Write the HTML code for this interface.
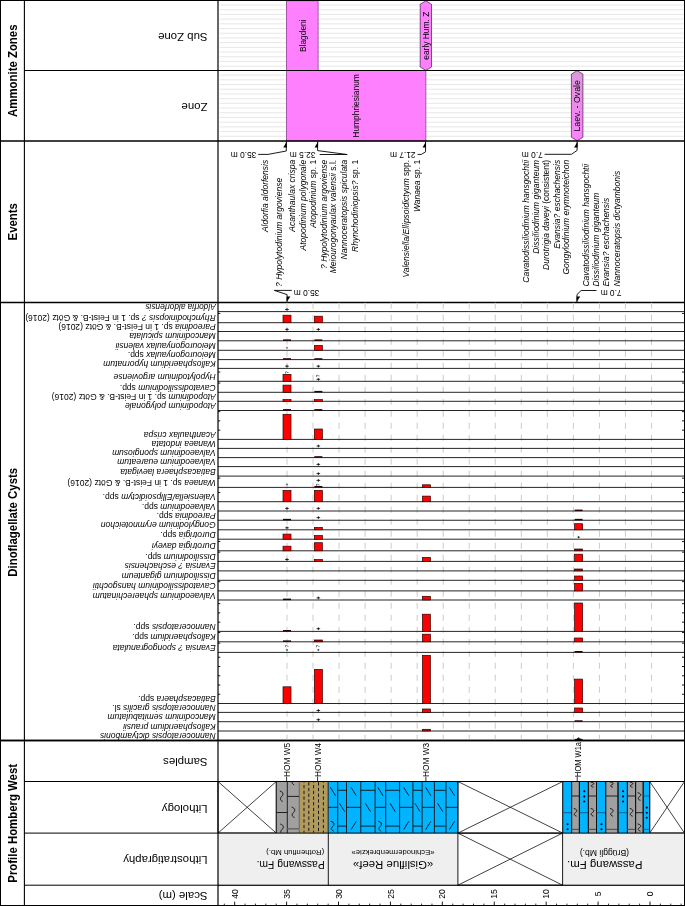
<!DOCTYPE html>
<html lang="en">
<head>
<meta charset="utf-8">
<title>Profile Homberg West – Dinoflagellate Cysts</title>
<style>html,body{margin:0;padding:0;background:#fff}body{width:685px;height:906px;overflow:hidden}svg text{white-space:pre}</style>
</head>
<body>
<svg width="685" height="906" viewBox="0 0 685 906" style="display:block;font-family:'Liberation Sans', Arial, sans-serif">
<rect x="0" y="0" width="685" height="906" fill="#fff"/>
<g stroke="#e3e3e3" stroke-width="0.85">
<line x1="219.5" y1="5.00" x2="684" y2="5.00"/>
<line x1="219.5" y1="9.71" x2="684" y2="9.71"/>
<line x1="219.5" y1="14.42" x2="684" y2="14.42"/>
<line x1="219.5" y1="19.12" x2="684" y2="19.12"/>
<line x1="219.5" y1="23.82" x2="684" y2="23.82"/>
<line x1="219.5" y1="28.53" x2="684" y2="28.53"/>
<line x1="219.5" y1="33.23" x2="684" y2="33.23"/>
<line x1="219.5" y1="37.94" x2="684" y2="37.94"/>
<line x1="219.5" y1="42.64" x2="684" y2="42.64"/>
<line x1="219.5" y1="47.35" x2="684" y2="47.35"/>
<line x1="219.5" y1="52.05" x2="684" y2="52.05"/>
<line x1="219.5" y1="56.76" x2="684" y2="56.76"/>
<line x1="219.5" y1="61.46" x2="684" y2="61.46"/>
<line x1="219.5" y1="66.17" x2="684" y2="66.17"/>
<line x1="219.5" y1="75.11" x2="684" y2="75.11"/>
<line x1="219.5" y1="79.81" x2="684" y2="79.81"/>
<line x1="219.5" y1="84.52" x2="684" y2="84.52"/>
<line x1="219.5" y1="89.22" x2="684" y2="89.22"/>
<line x1="219.5" y1="93.93" x2="684" y2="93.93"/>
<line x1="219.5" y1="98.63" x2="684" y2="98.63"/>
<line x1="219.5" y1="103.34" x2="684" y2="103.34"/>
<line x1="219.5" y1="108.04" x2="684" y2="108.04"/>
<line x1="219.5" y1="112.75" x2="684" y2="112.75"/>
<line x1="219.5" y1="117.45" x2="684" y2="117.45"/>
<line x1="219.5" y1="122.16" x2="684" y2="122.16"/>
<line x1="219.5" y1="126.86" x2="684" y2="126.86"/>
<line x1="219.5" y1="131.56" x2="684" y2="131.56"/>
<line x1="219.5" y1="136.27" x2="684" y2="136.27"/>
</g>
<rect x="286.40" y="0.80" width="31.70" height="69.60" fill="#ff80ff" stroke="#803080" stroke-width="0.7"/>
<rect x="286.40" y="70.50" width="139.50" height="70.50" fill="#ff80ff" stroke="#803080" stroke-width="0.7"/>
<defs><linearGradient id="pg" x1="0" y1="0" x2="0" y2="1"><stop offset="0" stop-color="#d99ad9"/><stop offset="0.55" stop-color="#ee88ee"/><stop offset="1" stop-color="#ff80ff"/></linearGradient></defs>
<polygon points="425.85,0.80 431.50,4.20 431.50,67.00 425.85,70.40 420.20,67.00 420.20,4.20" fill="#ff80ff" stroke="#402040" stroke-width="0.7"/>
<polygon points="577.15,70.70 582.90,74.10 582.90,137.30 577.15,140.70 571.40,137.30 571.40,74.10" fill="url(#pg)" stroke="#402040" stroke-width="0.7"/>
<text transform="translate(305.70,35.70) rotate(-90) scale(0.895,1)" text-anchor="middle" style="font-size:9.4px;" fill="#000">Blagdeni</text>
<text transform="translate(358.90,105.90) rotate(-90) scale(0.895,1)" text-anchor="middle" style="font-size:9.4px;" fill="#000">Humphriesianum</text>
<text transform="translate(429.30,35.70) rotate(-90) scale(0.895,1)" text-anchor="middle" style="font-size:9.4px;" fill="#000">early Hum. Z</text>
<text transform="translate(580.00,105.90) rotate(-90) scale(0.895,1)" text-anchor="middle" style="font-size:9.8px;" fill="#000">Laev. - Ovale</text>
<rect x="0.5" y="0.5" width="684" height="905" fill="none" stroke="#000" stroke-width="1"/>
<line x1="24.4" y1="0" x2="24.4" y2="906" stroke="#000" stroke-width="1.1" />
<line x1="0" y1="141.0" x2="685" y2="141.0" stroke="#000" stroke-width="1.5" />
<line x1="0" y1="302.4" x2="685" y2="302.4" stroke="#000" stroke-width="1.5" />
<line x1="0" y1="740.55" x2="685" y2="740.55" stroke="#000" stroke-width="1.5" />
<line x1="24.4" y1="70.5" x2="685" y2="70.5" stroke="#000" stroke-width="1.0" />
<line x1="24.4" y1="781.5" x2="685" y2="781.5" stroke="#000" stroke-width="1.0" />
<line x1="24.4" y1="833.1" x2="685" y2="833.1" stroke="#000" stroke-width="1.0" />
<line x1="24.4" y1="885.2" x2="685" y2="885.2" stroke="#000" stroke-width="1.0" />
<text transform="translate(17.00,70.70) rotate(-90) scale(0.95,1)" text-anchor="middle" style="font-size:12px;font-weight:bold;" fill="#000">Ammonite Zones</text>
<text transform="translate(17.00,221.80) rotate(-90) scale(0.95,1)" text-anchor="middle" style="font-size:12px;font-weight:bold;" fill="#000">Events</text>
<text transform="translate(17.00,522.30) rotate(-90) scale(0.95,1)" text-anchor="middle" style="font-size:12px;font-weight:bold;" fill="#000">Dinoflagellate Cysts</text>
<text transform="translate(17.00,823.30) rotate(-90) scale(0.95,1)" text-anchor="middle" style="font-size:12px;font-weight:bold;" fill="#000">Profile Homberg West</text>
<text transform="translate(207.50,32.95) rotate(180) scale(0.975,1)" text-anchor="start" style="font-size:11.7px;" fill="#000">Sub Zone</text>
<text transform="translate(207.50,103.25) rotate(180) scale(0.975,1)" text-anchor="start" style="font-size:11.7px;" fill="#000">Zone</text>
<text transform="translate(207.50,758.05) rotate(180) scale(0.975,1)" text-anchor="start" style="font-size:11.7px;" fill="#000">Samples</text>
<text transform="translate(207.50,804.65) rotate(180) scale(0.975,1)" text-anchor="start" style="font-size:11.7px;" fill="#000">Lithology</text>
<text transform="translate(207.50,856.25) rotate(180) scale(0.975,1)" text-anchor="start" style="font-size:11.7px;" fill="#000">Lithostratigraphy</text>
<text transform="translate(207.50,891.65) rotate(180) scale(0.975,1)" text-anchor="start" style="font-size:11.7px;" fill="#000">Scale (m)</text>
<text transform="translate(268.20,159.80) rotate(-90)" text-anchor="end" style="font-size:8.5px;font-style:italic;" fill="#000">Aldorfia aldorfensis</text>
<text transform="translate(282.10,177.80) rotate(-90)" text-anchor="end" style="font-size:8.5px;font-style:italic;" fill="#000">? Hypolytodinium argoviense</text>
<text transform="translate(295.40,159.80) rotate(-90)" text-anchor="end" style="font-size:8.5px;font-style:italic;" fill="#000">Acanthaulax crispa</text>
<text transform="translate(305.60,159.80) rotate(-90)" text-anchor="end" style="font-size:8.5px;font-style:italic;" fill="#000">Atopodinium polygonale</text>
<text transform="translate(316.20,159.80) rotate(-90)" text-anchor="end" style="font-size:8.5px;" fill="#000"><tspan font-style="italic">Atopodinium</tspan> sp. 1</text>
<text transform="translate(326.70,159.80) rotate(-90)" text-anchor="end" style="font-size:8.5px;font-style:italic;" fill="#000">? Hypolytodinium argoviense</text>
<text transform="translate(336.30,159.80) rotate(-90)" text-anchor="end" style="font-size:8.5px;" fill="#000"><tspan font-style="italic">Meiourogonyaulax valensii</tspan> s.l.</text>
<text transform="translate(347.10,159.80) rotate(-90)" text-anchor="end" style="font-size:8.5px;font-style:italic;" fill="#000">Nannoceratopsis spiculata</text>
<text transform="translate(357.70,159.80) rotate(-90)" text-anchor="end" style="font-size:8.5px;" fill="#000"><tspan font-style="italic">Rhynchodiniopsis?</tspan> sp. 1</text>
<text transform="translate(409.30,159.80) rotate(-90)" text-anchor="end" style="font-size:8.5px;" fill="#000"><tspan font-style="italic">Valensiella/Ellipsoidictyum</tspan> spp.</text>
<text transform="translate(419.50,159.80) rotate(-90)" text-anchor="end" style="font-size:8.5px;" fill="#000"><tspan font-style="italic">Wanaea</tspan> sp. 1</text>
<text transform="translate(528.90,159.80) rotate(-90)" text-anchor="end" style="font-size:8.5px;font-style:italic;" fill="#000">Cavatodissiliodinium hansgochtii</text>
<text transform="translate(539.10,159.80) rotate(-90)" text-anchor="end" style="font-size:8.5px;font-style:italic;" fill="#000">Dissiliodinium giganteum</text>
<text transform="translate(549.30,159.80) rotate(-90)" text-anchor="end" style="font-size:8.5px;" fill="#000"><tspan font-style="italic">Durotrigia daveyi</tspan> (consistent)</text>
<text transform="translate(559.50,159.80) rotate(-90)" text-anchor="end" style="font-size:8.5px;font-style:italic;" fill="#000">Evansia? eschachensis</text>
<text transform="translate(569.10,159.80) rotate(-90)" text-anchor="end" style="font-size:8.5px;font-style:italic;" fill="#000">Gongylodinium erymnoteichon</text>
<text transform="translate(588.60,286.60) rotate(-90)" text-anchor="start" style="font-size:8.5px;font-style:italic;" fill="#000">Cavatodissiliodinium hansgochtii</text>
<text transform="translate(598.80,286.60) rotate(-90)" text-anchor="start" style="font-size:8.5px;font-style:italic;" fill="#000">Dissiliodinium giganteum</text>
<text transform="translate(609.00,286.60) rotate(-90)" text-anchor="start" style="font-size:8.5px;font-style:italic;" fill="#000">Evansia? eschachensis</text>
<text transform="translate(619.60,286.60) rotate(-90)" text-anchor="start" style="font-size:8.5px;font-style:italic;" fill="#000">Nannoceratopsis dictyambonis</text>
<text transform="translate(256.30,151.90) rotate(180)" text-anchor="start" style="font-size:8.4px;" fill="#000">35.0 m</text>
<text transform="translate(315.50,151.90) rotate(180)" text-anchor="start" style="font-size:8.4px;" fill="#000">32.5 m</text>
<text transform="translate(415.60,151.90) rotate(180)" text-anchor="start" style="font-size:8.4px;" fill="#000">21.7 m</text>
<text transform="translate(542.80,151.90) rotate(180)" text-anchor="start" style="font-size:8.4px;" fill="#000">7.0 m</text>
<text transform="translate(319.30,289.50) rotate(180)" text-anchor="start" style="font-size:8.4px;" fill="#000">35.0 m</text>
<text transform="translate(621.60,289.50) rotate(180)" text-anchor="start" style="font-size:8.4px;" fill="#000">7.0 m</text>
<path d="M258.2,154.4 L268,154.4 L286.3,151.0 L286.3,141.5" fill="none" stroke="#000" stroke-width="0.9" stroke-linejoin="round"/>
<polygon points="286.75,141.50 286.75,147.60 283.30,147.60" fill="#000"/>
<path d="M319.7,154.5 L347.2,154.5 L317.6,150.6 L317.6,141.5" fill="none" stroke="#000" stroke-width="0.9" stroke-linejoin="round"/>
<polygon points="318.05,141.50 318.05,147.60 314.60,147.60" fill="#000"/>
<path d="M417.6,154.4 L421.4,154.4 L425.55,151.8 L425.55,141.5" fill="none" stroke="#000" stroke-width="0.9" stroke-linejoin="round"/>
<polygon points="426.00,141.50 426.00,147.60 422.55,147.60" fill="#000"/>
<path d="M544.6,154.3 L571.5,154.3 L577.1,150.4 L577.1,141.5" fill="none" stroke="#000" stroke-width="0.9" stroke-linejoin="round"/>
<polygon points="577.55,141.50 577.55,147.60 574.10,147.60" fill="#000"/>
<path d="M291.8,290.4 L274.3,290.4 L287.1,294.6 L287.1,301.9" fill="none" stroke="#000" stroke-width="0.9" stroke-linejoin="round"/>
<polygon points="286.65,301.90 286.65,296.40 290.40,296.40" fill="#000"/>
<path d="M596.5,290.5 L581.2,290.5 L577.0,294.5 L577.0,301.9" fill="none" stroke="#000" stroke-width="0.9" stroke-linejoin="round"/>
<polygon points="576.55,301.90 576.55,296.40 580.30,296.40" fill="#000"/>
<g stroke="#d0d0d0" stroke-width="1.1" stroke-dasharray="6 6">
<line x1="651.50" y1="302.70" x2="651.50" y2="740.05"/>
<line x1="625.46" y1="302.70" x2="625.46" y2="740.05"/>
<line x1="599.43" y1="302.70" x2="599.43" y2="740.05"/>
<line x1="573.39" y1="302.70" x2="573.39" y2="740.05"/>
<line x1="547.36" y1="302.70" x2="547.36" y2="740.05"/>
<line x1="521.32" y1="302.70" x2="521.32" y2="740.05"/>
<line x1="495.28" y1="302.70" x2="495.28" y2="740.05"/>
<line x1="469.25" y1="302.70" x2="469.25" y2="740.05"/>
<line x1="443.21" y1="302.70" x2="443.21" y2="740.05"/>
<line x1="417.18" y1="302.70" x2="417.18" y2="740.05"/>
<line x1="391.14" y1="302.70" x2="391.14" y2="740.05"/>
<line x1="365.10" y1="302.70" x2="365.10" y2="740.05"/>
<line x1="339.07" y1="302.70" x2="339.07" y2="740.05"/>
<line x1="313.03" y1="302.70" x2="313.03" y2="740.05"/>
<line x1="287.00" y1="302.70" x2="287.00" y2="740.05"/>
</g>
<line x1="218.0" y1="311.6" x2="685" y2="311.6" stroke="#1a1a1a" stroke-width="0.95" />
<text transform="translate(215.70,304.15) rotate(180)" text-anchor="start" style="font-size:8.27px;" fill="#000"><tspan font-style="italic">Aldorfia aldorfensis</tspan></text>
<line x1="218.0" y1="322.7" x2="685" y2="322.7" stroke="#1a1a1a" stroke-width="0.95" />
<text transform="translate(215.70,315.25) rotate(180)" text-anchor="start" style="font-size:8.5px;" fill="#000"><tspan font-style="italic">Rhynchodiniopsis ?</tspan> sp. 1 in Feist-B. &amp; Götz (2016)</text>
<line x1="218.0" y1="313.45" x2="220.3" y2="313.45" stroke="#000" stroke-width="0.9" />
<line x1="682.0" y1="313.45" x2="684.5" y2="313.45" stroke="#000" stroke-width="0.9" />
<line x1="218.0" y1="331.5" x2="685" y2="331.5" stroke="#1a1a1a" stroke-width="0.95" />
<text transform="translate(215.70,324.05) rotate(180)" text-anchor="start" style="font-size:8.5px;" fill="#000"><tspan font-style="italic">Pareodinia</tspan> sp. 1 in Feist-B. &amp; Götz (2016)</text>
<line x1="218.0" y1="340.8" x2="685" y2="340.8" stroke="#1a1a1a" stroke-width="0.95" />
<text transform="translate(215.70,333.35) rotate(180)" text-anchor="start" style="font-size:8.5px;" fill="#000"><tspan font-style="italic">Mancodinium spiculata</tspan></text>
<line x1="218.0" y1="350.3" x2="685" y2="350.3" stroke="#1a1a1a" stroke-width="0.95" />
<text transform="translate(215.70,342.85) rotate(180)" text-anchor="start" style="font-size:8.5px;" fill="#000"><tspan font-style="italic">Meiourogonyaulax valensii</tspan></text>
<line x1="218.0" y1="359.6" x2="685" y2="359.6" stroke="#1a1a1a" stroke-width="0.95" />
<text transform="translate(215.70,352.15) rotate(180)" text-anchor="start" style="font-size:8.5px;" fill="#000"><tspan font-style="italic">Meiourogonyaulax</tspan> spp.</text>
<line x1="218.0" y1="368.4" x2="685" y2="368.4" stroke="#1a1a1a" stroke-width="0.95" />
<text transform="translate(215.70,360.95) rotate(180)" text-anchor="start" style="font-size:8.5px;" fill="#000"><tspan font-style="italic">Kallosphaeridium hypornatum</tspan></text>
<line x1="218.0" y1="381.3" x2="685" y2="381.3" stroke="#1a1a1a" stroke-width="0.95" />
<text transform="translate(215.70,373.85) rotate(180)" text-anchor="start" style="font-size:8.5px;" fill="#000"><tspan font-style="italic">Hypolytodinium argoviense</tspan></text>
<line x1="218.0" y1="372.05" x2="220.3" y2="372.05" stroke="#000" stroke-width="0.9" />
<line x1="682.0" y1="372.05" x2="684.5" y2="372.05" stroke="#000" stroke-width="0.9" />
<line x1="218.0" y1="392.3" x2="685" y2="392.3" stroke="#1a1a1a" stroke-width="0.95" />
<text transform="translate(215.70,384.85) rotate(180)" text-anchor="start" style="font-size:8.5px;" fill="#000"><tspan font-style="italic">Cavatodissiliodinium</tspan> spp.</text>
<line x1="218.0" y1="383.05" x2="220.3" y2="383.05" stroke="#000" stroke-width="0.9" />
<line x1="682.0" y1="383.05" x2="684.5" y2="383.05" stroke="#000" stroke-width="0.9" />
<line x1="218.0" y1="401.3" x2="685" y2="401.3" stroke="#1a1a1a" stroke-width="0.95" />
<text transform="translate(215.70,393.85) rotate(180)" text-anchor="start" style="font-size:8.5px;" fill="#000"><tspan font-style="italic">Atopodinium</tspan> sp. 1 in Feist-B. &amp; Götz (2016)</text>
<line x1="218.0" y1="410.5" x2="685" y2="410.5" stroke="#1a1a1a" stroke-width="0.95" />
<text transform="translate(215.70,403.05) rotate(180)" text-anchor="start" style="font-size:8.5px;" fill="#000"><tspan font-style="italic">Atopodinium polygonale</tspan></text>
<line x1="218.0" y1="439.4" x2="685" y2="439.4" stroke="#1a1a1a" stroke-width="0.95" />
<text transform="translate(215.70,431.95) rotate(180)" text-anchor="start" style="font-size:8.5px;" fill="#000"><tspan font-style="italic">Acanthaulax crispa</tspan></text>
<line x1="218.0" y1="430.15" x2="220.3" y2="430.15" stroke="#000" stroke-width="0.9" />
<line x1="682.0" y1="430.15" x2="684.5" y2="430.15" stroke="#000" stroke-width="0.9" />
<line x1="218.0" y1="420.9" x2="220.3" y2="420.9" stroke="#000" stroke-width="0.9" />
<line x1="682.0" y1="420.9" x2="684.5" y2="420.9" stroke="#000" stroke-width="0.9" />
<line x1="218.0" y1="411.65" x2="220.3" y2="411.65" stroke="#000" stroke-width="0.9" />
<line x1="682.0" y1="411.65" x2="684.5" y2="411.65" stroke="#000" stroke-width="0.9" />
<line x1="218.0" y1="448.4" x2="685" y2="448.4" stroke="#1a1a1a" stroke-width="0.95" />
<text transform="translate(215.70,440.95) rotate(180)" text-anchor="start" style="font-size:8.5px;" fill="#000"><tspan font-style="italic">Wanaea indotata</tspan></text>
<line x1="218.0" y1="457.6" x2="685" y2="457.6" stroke="#1a1a1a" stroke-width="0.95" />
<text transform="translate(215.70,450.15) rotate(180)" text-anchor="start" style="font-size:8.5px;" fill="#000"><tspan font-style="italic">Valvaeodinium spongiosum</tspan></text>
<line x1="218.0" y1="466.6" x2="685" y2="466.6" stroke="#1a1a1a" stroke-width="0.95" />
<text transform="translate(215.70,459.15) rotate(180)" text-anchor="start" style="font-size:8.5px;" fill="#000"><tspan font-style="italic">Valvaeodinium euareatum</tspan></text>
<line x1="218.0" y1="476.1" x2="685" y2="476.1" stroke="#1a1a1a" stroke-width="0.95" />
<text transform="translate(215.70,468.65) rotate(180)" text-anchor="start" style="font-size:8.5px;" fill="#000"><tspan font-style="italic">Batiacasphaera laevigata</tspan></text>
<line x1="218.0" y1="487.4" x2="685" y2="487.4" stroke="#1a1a1a" stroke-width="0.95" />
<text transform="translate(215.70,479.95) rotate(180)" text-anchor="start" style="font-size:8.5px;" fill="#000"><tspan font-style="italic">Wanaea</tspan> sp. 1 in Feist-B. &amp; Götz (2016)</text>
<line x1="218.0" y1="478.15" x2="220.3" y2="478.15" stroke="#000" stroke-width="0.9" />
<line x1="682.0" y1="478.15" x2="684.5" y2="478.15" stroke="#000" stroke-width="0.9" />
<line x1="218.0" y1="501.7" x2="685" y2="501.7" stroke="#1a1a1a" stroke-width="0.95" />
<text transform="translate(215.70,494.25) rotate(180)" text-anchor="start" style="font-size:8.5px;" fill="#000"><tspan font-style="italic">Valensiella/Ellipsoidictym</tspan> spp.</text>
<line x1="218.0" y1="492.45" x2="220.3" y2="492.45" stroke="#000" stroke-width="0.9" />
<line x1="682.0" y1="492.45" x2="684.5" y2="492.45" stroke="#000" stroke-width="0.9" />
<line x1="218.0" y1="511.0" x2="685" y2="511.0" stroke="#1a1a1a" stroke-width="0.95" />
<text transform="translate(215.70,503.55) rotate(180)" text-anchor="start" style="font-size:8.5px;" fill="#000"><tspan font-style="italic">Valvaeodinium</tspan> spp.</text>
<line x1="218.0" y1="520.25" x2="685" y2="520.25" stroke="#1a1a1a" stroke-width="0.95" />
<text transform="translate(215.70,512.80) rotate(180)" text-anchor="start" style="font-size:8.5px;" fill="#000"><tspan font-style="italic">Pareodinia</tspan> spp.</text>
<line x1="218.0" y1="529.8" x2="685" y2="529.8" stroke="#1a1a1a" stroke-width="0.95" />
<text transform="translate(215.70,522.35) rotate(180)" text-anchor="start" style="font-size:8.5px;" fill="#000"><tspan font-style="italic">Gongylodinium erymnoteichon</tspan></text>
<line x1="218.0" y1="539.2" x2="685" y2="539.2" stroke="#1a1a1a" stroke-width="0.95" />
<text transform="translate(215.70,531.75) rotate(180)" text-anchor="start" style="font-size:8.5px;" fill="#000"><tspan font-style="italic">Durotrigia</tspan> spp.</text>
<line x1="218.0" y1="550.8" x2="685" y2="550.8" stroke="#1a1a1a" stroke-width="0.95" />
<text transform="translate(215.70,543.35) rotate(180)" text-anchor="start" style="font-size:8.5px;" fill="#000"><tspan font-style="italic">Durotrigia daveyi</tspan></text>
<line x1="218.0" y1="541.55" x2="220.3" y2="541.55" stroke="#000" stroke-width="0.9" />
<line x1="682.0" y1="541.55" x2="684.5" y2="541.55" stroke="#000" stroke-width="0.9" />
<line x1="218.0" y1="561.4" x2="685" y2="561.4" stroke="#1a1a1a" stroke-width="0.95" />
<text transform="translate(215.70,553.95) rotate(180)" text-anchor="start" style="font-size:8.5px;" fill="#000"><tspan font-style="italic">Dissiliodinium</tspan> spp.</text>
<line x1="218.0" y1="552.15" x2="220.3" y2="552.15" stroke="#000" stroke-width="0.9" />
<line x1="682.0" y1="552.15" x2="684.5" y2="552.15" stroke="#000" stroke-width="0.9" />
<line x1="218.0" y1="570.9" x2="685" y2="570.9" stroke="#1a1a1a" stroke-width="0.95" />
<text transform="translate(215.70,563.45) rotate(180)" text-anchor="start" style="font-size:8.5px;" fill="#000"><tspan font-style="italic">Evansia ? eschachensis</tspan></text>
<line x1="218.0" y1="580.3" x2="685" y2="580.3" stroke="#1a1a1a" stroke-width="0.95" />
<text transform="translate(215.70,572.85) rotate(180)" text-anchor="start" style="font-size:8.5px;" fill="#000"><tspan font-style="italic">Dissiliodinium giganteum</tspan></text>
<line x1="218.0" y1="590.9" x2="685" y2="590.9" stroke="#1a1a1a" stroke-width="0.95" />
<text transform="translate(215.70,583.45) rotate(180)" text-anchor="start" style="font-size:8.5px;" fill="#000"><tspan font-style="italic">Cavatodissiliodinium hansgochtii</tspan></text>
<line x1="218.0" y1="581.65" x2="220.3" y2="581.65" stroke="#000" stroke-width="0.9" />
<line x1="682.0" y1="581.65" x2="684.5" y2="581.65" stroke="#000" stroke-width="0.9" />
<line x1="218.0" y1="600.0" x2="685" y2="600.0" stroke="#1a1a1a" stroke-width="0.95" />
<text transform="translate(215.70,592.55) rotate(180)" text-anchor="start" style="font-size:8.5px;" fill="#000"><tspan font-style="italic">Valvaeodinium sphaerechinatum</tspan></text>
<line x1="218.0" y1="631.4" x2="685" y2="631.4" stroke="#1a1a1a" stroke-width="0.95" />
<text transform="translate(215.70,623.95) rotate(180)" text-anchor="start" style="font-size:8.5px;" fill="#000"><tspan font-style="italic">Nannoceratopsis</tspan> spp.</text>
<line x1="218.0" y1="622.15" x2="220.3" y2="622.15" stroke="#000" stroke-width="0.9" />
<line x1="682.0" y1="622.15" x2="684.5" y2="622.15" stroke="#000" stroke-width="0.9" />
<line x1="218.0" y1="612.9" x2="220.3" y2="612.9" stroke="#000" stroke-width="0.9" />
<line x1="682.0" y1="612.9" x2="684.5" y2="612.9" stroke="#000" stroke-width="0.9" />
<line x1="218.0" y1="603.65" x2="220.3" y2="603.65" stroke="#000" stroke-width="0.9" />
<line x1="682.0" y1="603.65" x2="684.5" y2="603.65" stroke="#000" stroke-width="0.9" />
<line x1="218.0" y1="641.8" x2="685" y2="641.8" stroke="#1a1a1a" stroke-width="0.95" />
<text transform="translate(215.70,634.35) rotate(180)" text-anchor="start" style="font-size:8.5px;" fill="#000"><tspan font-style="italic">Kallosphaeridium</tspan> spp.</text>
<line x1="218.0" y1="632.55" x2="220.3" y2="632.55" stroke="#000" stroke-width="0.9" />
<line x1="682.0" y1="632.55" x2="684.5" y2="632.55" stroke="#000" stroke-width="0.9" />
<line x1="218.0" y1="652.4" x2="685" y2="652.4" stroke="#1a1a1a" stroke-width="0.95" />
<text transform="translate(215.70,644.95) rotate(180)" text-anchor="start" style="font-size:8.5px;" fill="#000"><tspan font-style="italic">Evansia ? spongogranulata</tspan></text>
<line x1="218.0" y1="643.15" x2="220.3" y2="643.15" stroke="#000" stroke-width="0.9" />
<line x1="682.0" y1="643.15" x2="684.5" y2="643.15" stroke="#000" stroke-width="0.9" />
<line x1="218.0" y1="703.5" x2="685" y2="703.5" stroke="#1a1a1a" stroke-width="0.95" />
<text transform="translate(215.70,696.05) rotate(180)" text-anchor="start" style="font-size:8.5px;" fill="#000"><tspan font-style="italic">Batiacasphaera</tspan> spp.</text>
<line x1="218.0" y1="694.25" x2="220.3" y2="694.25" stroke="#000" stroke-width="0.9" />
<line x1="682.0" y1="694.25" x2="684.5" y2="694.25" stroke="#000" stroke-width="0.9" />
<line x1="218.0" y1="685.0" x2="220.3" y2="685.0" stroke="#000" stroke-width="0.9" />
<line x1="682.0" y1="685.0" x2="684.5" y2="685.0" stroke="#000" stroke-width="0.9" />
<line x1="218.0" y1="675.75" x2="220.3" y2="675.75" stroke="#000" stroke-width="0.9" />
<line x1="682.0" y1="675.75" x2="684.5" y2="675.75" stroke="#000" stroke-width="0.9" />
<line x1="218.0" y1="666.5" x2="220.3" y2="666.5" stroke="#000" stroke-width="0.9" />
<line x1="682.0" y1="666.5" x2="684.5" y2="666.5" stroke="#000" stroke-width="0.9" />
<line x1="218.0" y1="657.25" x2="220.3" y2="657.25" stroke="#000" stroke-width="0.9" />
<line x1="682.0" y1="657.25" x2="684.5" y2="657.25" stroke="#000" stroke-width="0.9" />
<line x1="218.0" y1="712.4" x2="685" y2="712.4" stroke="#1a1a1a" stroke-width="0.95" />
<text transform="translate(215.70,704.95) rotate(180)" text-anchor="start" style="font-size:8.5px;" fill="#000"><tspan font-style="italic">Nannoceratopsis gracilis</tspan> sl.</text>
<line x1="218.0" y1="721.7" x2="685" y2="721.7" stroke="#1a1a1a" stroke-width="0.95" />
<text transform="translate(215.70,714.25) rotate(180)" text-anchor="start" style="font-size:8.5px;" fill="#000"><tspan font-style="italic">Mancodinium semitabulatum</tspan></text>
<line x1="218.0" y1="731.0" x2="685" y2="731.0" stroke="#1a1a1a" stroke-width="0.95" />
<text transform="translate(215.70,723.55) rotate(180)" text-anchor="start" style="font-size:8.5px;" fill="#000"><tspan font-style="italic">Kallosphaeridium prausii</tspan></text>
<text transform="translate(215.70,732.85) rotate(180)" text-anchor="start" style="font-size:8.5px;" fill="#000"><tspan font-style="italic">Nannoceratopsis dictyambonis</tspan></text>
<path d="M285.20,309.50H288.80M287.00,308.15V310.85" stroke="#000" stroke-width="0.8" fill="none"/>
<rect x="283.00" y="315.20" width="8.00" height="7.50" fill="#ff0000" stroke="#300000" stroke-width="0.7"/>
<path d="M285.20,329.40H288.80M287.00,328.05V330.75" stroke="#000" stroke-width="0.8" fill="none"/>
<rect x="283.00" y="339.40" width="8.00" height="1.50" fill="#2a0000"/>
<path d="M285.90,347.80H288.10M287.00,346.80V348.80" stroke="#666" stroke-width="0.8" fill="none"/>
<rect x="283.00" y="358.20" width="8.00" height="1.50" fill="#2a0000"/>
<path d="M285.20,366.20H288.80M287.00,364.85V367.55" stroke="#000" stroke-width="0.8" fill="none"/>
<text transform="translate(288.60,372.80) rotate(-90)" text-anchor="middle" style="font-size:4.6px;" fill="#000">?</text>
<rect x="283.00" y="374.40" width="8.00" height="6.90" fill="#ff0000" stroke="#300000" stroke-width="0.7"/>
<rect x="283.00" y="385.10" width="8.00" height="7.20" fill="#ff0000" stroke="#300000" stroke-width="0.7"/>
<rect x="283.00" y="399.60" width="8.00" height="1.70" fill="#ff0000" stroke="#300000" stroke-width="0.7"/>
<rect x="283.00" y="409.10" width="8.00" height="1.50" fill="#2a0000"/>
<rect x="283.00" y="414.30" width="8.00" height="25.10" fill="#ff0000" stroke="#300000" stroke-width="0.7"/>
<path d="M285.90,484.50H288.10M287.00,483.50V485.50" stroke="#666" stroke-width="0.8" fill="none"/>
<rect x="283.00" y="490.40" width="8.00" height="11.30" fill="#ff0000" stroke="#300000" stroke-width="0.7"/>
<path d="M285.20,508.40H288.80M287.00,507.05V509.75" stroke="#000" stroke-width="0.8" fill="none"/>
<rect x="283.00" y="518.85" width="8.00" height="1.50" fill="#2a0000"/>
<path d="M285.20,527.80H288.80M287.00,526.45V529.15" stroke="#000" stroke-width="0.8" fill="none"/>
<rect x="283.00" y="534.10" width="8.00" height="5.10" fill="#ff0000" stroke="#300000" stroke-width="0.7"/>
<rect x="283.00" y="546.20" width="8.00" height="4.60" fill="#ff0000" stroke="#300000" stroke-width="0.7"/>
<path d="M285.20,559.50H288.80M287.00,558.15V560.85" stroke="#000" stroke-width="0.8" fill="none"/>
<rect x="283.00" y="598.60" width="8.00" height="1.50" fill="#2a0000"/>
<rect x="283.00" y="630.00" width="8.00" height="1.50" fill="#2a0000"/>
<rect x="283.00" y="640.40" width="8.00" height="1.50" fill="#2a0000"/>
<text transform="translate(288.60,646.20) rotate(-90)" text-anchor="middle" style="font-size:4.6px;" fill="#000">?</text>
<path d="M285.90,649.90H288.10M287.00,648.90V650.90" stroke="#333" stroke-width="0.8" fill="none"/>
<rect x="283.00" y="686.80" width="8.00" height="16.70" fill="#ff0000" stroke="#300000" stroke-width="0.7"/>
<rect x="314.35" y="316.20" width="8.00" height="6.50" fill="#ff0000" stroke="#300000" stroke-width="0.7"/>
<path d="M316.55,329.40H320.15M318.35,328.05V330.75" stroke="#000" stroke-width="0.8" fill="none"/>
<rect x="314.35" y="339.40" width="8.00" height="1.50" fill="#2a0000"/>
<rect x="314.35" y="345.40" width="8.00" height="4.90" fill="#ff0000" stroke="#300000" stroke-width="0.7"/>
<rect x="314.35" y="358.20" width="8.00" height="1.50" fill="#2a0000"/>
<path d="M316.55,366.20H320.15M318.35,364.85V367.55" stroke="#000" stroke-width="0.8" fill="none"/>
<text transform="translate(319.95,375.90) rotate(-90)" text-anchor="middle" style="font-size:4.6px;" fill="#000">?</text>
<path d="M316.55,379.30H320.15M318.35,377.95V380.65" stroke="#000" stroke-width="0.8" fill="none"/>
<rect x="314.35" y="390.90" width="8.00" height="1.50" fill="#2a0000"/>
<rect x="314.35" y="399.60" width="8.00" height="1.70" fill="#ff0000" stroke="#300000" stroke-width="0.7"/>
<rect x="314.35" y="409.10" width="8.00" height="1.50" fill="#2a0000"/>
<rect x="314.35" y="429.00" width="8.00" height="10.40" fill="#ff0000" stroke="#300000" stroke-width="0.7"/>
<path d="M316.55,446.00H320.15M318.35,444.65V447.35" stroke="#000" stroke-width="0.8" fill="none"/>
<rect x="314.35" y="456.20" width="8.00" height="1.50" fill="#2a0000"/>
<path d="M316.55,464.40H320.15M318.35,463.05V465.75" stroke="#000" stroke-width="0.8" fill="none"/>
<path d="M316.55,473.60H320.15M318.35,472.25V474.95" stroke="#000" stroke-width="0.8" fill="none"/>
<path d="M316.55,480.40H320.15M318.35,479.05V481.75" stroke="#000" stroke-width="0.8" fill="none"/>
<text transform="translate(319.95,485.00) rotate(-90)" text-anchor="middle" style="font-size:4.6px;" fill="#000">?</text>
<rect x="314.35" y="486.00" width="8.00" height="1.50" fill="#2a0000"/>
<rect x="314.35" y="490.40" width="8.00" height="11.30" fill="#ff0000" stroke="#300000" stroke-width="0.7"/>
<path d="M316.55,508.40H320.15M318.35,507.05V509.75" stroke="#000" stroke-width="0.8" fill="none"/>
<path d="M316.55,517.60H320.15M318.35,516.25V518.95" stroke="#000" stroke-width="0.8" fill="none"/>
<rect x="314.35" y="527.40" width="8.00" height="2.40" fill="#ff0000" stroke="#300000" stroke-width="0.7"/>
<rect x="314.35" y="535.50" width="8.00" height="3.70" fill="#ff0000" stroke="#300000" stroke-width="0.7"/>
<rect x="314.35" y="542.70" width="8.00" height="8.10" fill="#ff0000" stroke="#300000" stroke-width="0.7"/>
<rect x="314.35" y="559.50" width="8.00" height="1.90" fill="#ff0000" stroke="#300000" stroke-width="0.7"/>
<path d="M316.55,597.90H320.15M318.35,596.55V599.25" stroke="#000" stroke-width="0.8" fill="none"/>
<path d="M316.55,628.70H320.15M318.35,627.35V630.05" stroke="#000" stroke-width="0.8" fill="none"/>
<rect x="314.35" y="640.00" width="8.00" height="1.80" fill="#b00000" stroke="#300000" stroke-width="0.7"/>
<text transform="translate(319.95,646.20) rotate(-90)" text-anchor="middle" style="font-size:4.6px;" fill="#000">?</text>
<path d="M317.25,649.90H319.45M318.35,648.90V650.90" stroke="#333" stroke-width="0.8" fill="none"/>
<rect x="314.35" y="669.40" width="8.00" height="34.10" fill="#ff0000" stroke="#300000" stroke-width="0.7"/>
<path d="M316.55,710.50H320.15M318.35,709.15V711.85" stroke="#000" stroke-width="0.8" fill="none"/>
<path d="M316.55,719.70H320.15M318.35,718.35V721.05" stroke="#000" stroke-width="0.8" fill="none"/>
<rect x="422.40" y="484.80" width="8.00" height="2.60" fill="#ff0000" stroke="#300000" stroke-width="0.7"/>
<rect x="422.40" y="496.10" width="8.00" height="5.60" fill="#ff0000" stroke="#300000" stroke-width="0.7"/>
<rect x="422.40" y="557.40" width="8.00" height="4.00" fill="#ff0000" stroke="#300000" stroke-width="0.7"/>
<rect x="422.40" y="596.30" width="8.00" height="3.70" fill="#ff0000" stroke="#300000" stroke-width="0.7"/>
<rect x="422.40" y="614.20" width="8.00" height="17.20" fill="#ff0000" stroke="#300000" stroke-width="0.7"/>
<rect x="422.40" y="634.20" width="8.00" height="7.60" fill="#ff0000" stroke="#300000" stroke-width="0.7"/>
<rect x="422.40" y="655.40" width="8.00" height="48.10" fill="#ff0000" stroke="#300000" stroke-width="0.7"/>
<rect x="422.40" y="709.00" width="8.00" height="3.40" fill="#ff0000" stroke="#300000" stroke-width="0.7"/>
<rect x="422.40" y="729.30" width="8.00" height="1.70" fill="#c00000" stroke="#300000" stroke-width="0.7"/>
<rect x="574.60" y="509.60" width="8.00" height="1.50" fill="#2a0000"/>
<rect x="574.60" y="518.85" width="8.00" height="1.50" fill="#2a0000"/>
<rect x="574.60" y="523.70" width="8.00" height="6.10" fill="#ff0000" stroke="#300000" stroke-width="0.7"/>
<path d="M577.50,537.20H579.70M578.60,536.20V538.20" stroke="#000" stroke-width="0.8" fill="none"/>
<rect x="574.60" y="549.00" width="8.00" height="1.80" fill="#a00000" stroke="#300000" stroke-width="0.7"/>
<rect x="574.60" y="554.20" width="8.00" height="7.20" fill="#ff0000" stroke="#300000" stroke-width="0.7"/>
<rect x="574.60" y="569.00" width="8.00" height="1.90" fill="#b80000" stroke="#300000" stroke-width="0.7"/>
<rect x="574.60" y="576.00" width="8.00" height="4.30" fill="#ff0000" stroke="#300000" stroke-width="0.7"/>
<rect x="574.60" y="583.40" width="8.00" height="7.50" fill="#ff0000" stroke="#300000" stroke-width="0.7"/>
<rect x="574.60" y="603.00" width="8.00" height="28.40" fill="#ff0000" stroke="#300000" stroke-width="0.7"/>
<rect x="574.60" y="638.00" width="8.00" height="3.80" fill="#ff0000" stroke="#300000" stroke-width="0.7"/>
<rect x="574.60" y="651.00" width="8.00" height="1.50" fill="#2a0000"/>
<rect x="574.60" y="679.10" width="8.00" height="24.40" fill="#ff0000" stroke="#300000" stroke-width="0.7"/>
<rect x="574.60" y="708.00" width="8.00" height="4.40" fill="#ff0000" stroke="#300000" stroke-width="0.7"/>
<rect x="574.60" y="720.30" width="8.00" height="1.50" fill="#2a0000"/>
<rect x="574.60" y="738.90" width="8.00" height="1.50" fill="#2a0000"/>
<path d="M576.80,738.60H580.40M578.60,737.25V739.95" stroke="#000" stroke-width="0.8" fill="none"/>
<text transform="translate(290.00,777.00) rotate(-90)" text-anchor="start" style="font-size:8.3px;" fill="#000">HOM W5</text>
<line x1="286.6" y1="776.6" x2="286.6" y2="781.5" stroke="#000" stroke-width="0.8" />
<text transform="translate(321.00,777.00) rotate(-90)" text-anchor="start" style="font-size:8.3px;" fill="#000">HOM W4</text>
<line x1="317.6" y1="776.6" x2="317.6" y2="781.5" stroke="#000" stroke-width="0.8" />
<text transform="translate(429.30,777.00) rotate(-90)" text-anchor="start" style="font-size:8.3px;" fill="#000">HOM W3</text>
<line x1="425.90000000000003" y1="776.6" x2="425.90000000000003" y2="781.5" stroke="#000" stroke-width="0.8" />
<text transform="translate(580.60,777.00) rotate(-90) scale(0.905,1)" text-anchor="start" style="font-size:8.3px;" fill="#000">HOM W1a</text>
<line x1="577.2" y1="776.6" x2="577.2" y2="781.5" stroke="#000" stroke-width="0.8" />
<defs><clipPath id="lc"><rect x="218.0" y="781.9" width="466.5" height="50.800000000000026"/></clipPath></defs>
<path d="M218.00,781.50L276.30,833.10M218.00,833.10L276.30,781.50" stroke="#111" stroke-width="0.8" fill="none"/>
<line x1="218.0" y1="781.5" x2="218.0" y2="833.1" stroke="#000" stroke-width="0.9" />
<line x1="276.3" y1="781.5" x2="276.3" y2="833.1" stroke="#000" stroke-width="0.9" />
<rect x="276.30" y="781.50" width="23.10" height="51.60" fill="#a0a0a0"/>
<line x1="276.3" y1="781.5" x2="276.3" y2="833.1" stroke="#111" stroke-width="0.9" />
<line x1="287.3" y1="781.5" x2="287.3" y2="833.1" stroke="#111" stroke-width="0.9" />
<line x1="299.4" y1="781.5" x2="299.4" y2="833.1" stroke="#111" stroke-width="0.9" />
<line x1="276.3" y1="812.5" x2="287.3" y2="812.5" stroke="#111" stroke-width="0.9" />
<line x1="287.3" y1="796.4" x2="299.4" y2="796.4" stroke="#111" stroke-width="0.9" />
<line x1="287.3" y1="828.8" x2="299.4" y2="828.8" stroke="#666" stroke-width="1.5" />
<path clip-path="url(#lc)" d="M280.20,791.10 C283.50,792.00 283.60,794.80 281.80,796.30 C280.00,797.80 279.60,800.20 282.30,801.30" stroke="#000" stroke-width="0.85" fill="none" stroke-linecap="round"/>
<path clip-path="url(#lc)" d="M280.60,824.10 C283.90,825.00 284.00,827.80 282.20,829.30 C280.40,830.80 280.00,833.20 282.70,834.30" stroke="#000" stroke-width="0.85" fill="none" stroke-linecap="round"/>
<path clip-path="url(#lc)" d="M292.00,807.20 C295.30,808.10 295.40,810.90 293.60,812.40 C291.80,813.90 291.40,816.30 294.10,817.40" stroke="#000" stroke-width="0.85" fill="none" stroke-linecap="round"/>
<path clip-path="url(#lc)" d="M291.80,774.50 C295.10,775.40 295.20,778.20 293.40,779.70 C291.60,781.20 291.20,783.60 293.90,784.70" stroke="#000" stroke-width="0.85" fill="none" stroke-linecap="round"/>
<rect x="299.40" y="781.50" width="28.80" height="51.60" fill="#b09a5e"/>
<line x1="304.0" y1="781.9" x2="304.0" y2="832.7" stroke="#111" stroke-width="0.95" stroke-dasharray="3.3 2.4" stroke-dashoffset="2.55"/>
<line x1="308.8" y1="781.9" x2="308.8" y2="832.7" stroke="#111" stroke-width="0.95" stroke-dasharray="3.3 2.4" stroke-dashoffset="5.4"/>
<line x1="313.6" y1="781.9" x2="313.6" y2="832.7" stroke="#111" stroke-width="0.95" stroke-dasharray="3.3 2.4" stroke-dashoffset="2.55"/>
<line x1="318.5" y1="781.9" x2="318.5" y2="832.7" stroke="#111" stroke-width="0.95" stroke-dasharray="3.3 2.4" stroke-dashoffset="5.4"/>
<line x1="323.4" y1="781.9" x2="323.4" y2="832.7" stroke="#111" stroke-width="0.95" stroke-dasharray="3.3 2.4" stroke-dashoffset="2.55"/>
<rect x="328.20" y="781.50" width="129.70" height="51.60" fill="#00b4ff"/>
<line x1="328.2" y1="781.5" x2="328.2" y2="833.1" stroke="#111" stroke-width="0.9" />
<line x1="337.7" y1="781.5" x2="337.7" y2="833.1" stroke="#111" stroke-width="0.9" />
<line x1="346.5" y1="781.5" x2="346.5" y2="833.1" stroke="#111" stroke-width="0.9" />
<line x1="360.8" y1="781.5" x2="360.8" y2="833.1" stroke="#111" stroke-width="0.9" />
<line x1="375.1" y1="781.5" x2="375.1" y2="833.1" stroke="#111" stroke-width="0.9" />
<line x1="385.7" y1="781.5" x2="385.7" y2="833.1" stroke="#111" stroke-width="0.9" />
<line x1="399.6" y1="781.5" x2="399.6" y2="833.1" stroke="#111" stroke-width="0.9" />
<line x1="412.9" y1="781.5" x2="412.9" y2="833.1" stroke="#111" stroke-width="0.9" />
<line x1="422.1" y1="781.5" x2="422.1" y2="833.1" stroke="#111" stroke-width="0.9" />
<line x1="434.4" y1="781.5" x2="434.4" y2="833.1" stroke="#111" stroke-width="0.9" />
<line x1="446.0" y1="781.5" x2="446.0" y2="833.1" stroke="#111" stroke-width="0.9" />
<line x1="457.9" y1="781.5" x2="457.9" y2="833.1" stroke="#111" stroke-width="0.9" />
<line x1="328.2" y1="807.3" x2="337.7" y2="807.3" stroke="#111" stroke-width="0.9" />
<line x1="330.35" y1="787.30" x2="335.55" y2="795.70" stroke="#000" stroke-width="0.8"/>
<path clip-path="url(#lc)" d="M331.25,821.40 C334.55,822.25 334.65,824.88 332.85,826.29 C331.05,827.71 330.65,829.96 333.35,831.00" stroke="#000" stroke-width="0.85" fill="none" stroke-linecap="round"/>
<line x1="337.7" y1="790.3" x2="346.5" y2="790.3" stroke="#111" stroke-width="0.9" />
<line x1="337.7" y1="826.1" x2="346.5" y2="826.1" stroke="#111" stroke-width="0.9" />
<line x1="339.50" y1="803.30" x2="344.70" y2="811.70" stroke="#000" stroke-width="0.8"/>
<line x1="346.5" y1="807.3" x2="360.8" y2="807.3" stroke="#111" stroke-width="0.9" />
<line x1="351.05" y1="787.30" x2="356.25" y2="795.70" stroke="#000" stroke-width="0.8"/>
<line x1="356.25" y1="821.30" x2="351.05" y2="829.70" stroke="#000" stroke-width="0.8"/>
<line x1="360.8" y1="790.3" x2="375.1" y2="790.3" stroke="#111" stroke-width="0.9" />
<line x1="360.8" y1="826.1" x2="375.1" y2="826.1" stroke="#111" stroke-width="0.9" />
<line x1="365.35" y1="803.30" x2="370.55" y2="811.70" stroke="#000" stroke-width="0.8"/>
<line x1="375.1" y1="807.3" x2="385.7" y2="807.3" stroke="#111" stroke-width="0.9" />
<line x1="377.80" y1="787.30" x2="383.00" y2="795.70" stroke="#000" stroke-width="0.8"/>
<path clip-path="url(#lc)" d="M378.70,821.40 C382.00,822.25 382.10,824.88 380.30,826.29 C378.50,827.71 378.10,829.96 380.80,831.00" stroke="#000" stroke-width="0.85" fill="none" stroke-linecap="round"/>
<line x1="385.7" y1="790.3" x2="399.6" y2="790.3" stroke="#111" stroke-width="0.9" />
<line x1="385.7" y1="826.1" x2="399.6" y2="826.1" stroke="#111" stroke-width="0.9" />
<line x1="390.05" y1="803.30" x2="395.25" y2="811.70" stroke="#000" stroke-width="0.8"/>
<line x1="399.6" y1="807.3" x2="412.9" y2="807.3" stroke="#111" stroke-width="0.9" />
<line x1="403.65" y1="787.30" x2="408.85" y2="795.70" stroke="#000" stroke-width="0.8"/>
<line x1="408.85" y1="821.30" x2="403.65" y2="829.70" stroke="#000" stroke-width="0.8"/>
<line x1="412.9" y1="790.3" x2="422.1" y2="790.3" stroke="#111" stroke-width="0.9" />
<line x1="412.9" y1="826.1" x2="422.1" y2="826.1" stroke="#111" stroke-width="0.9" />
<line x1="414.90" y1="803.30" x2="420.10" y2="811.70" stroke="#000" stroke-width="0.8"/>
<line x1="422.1" y1="807.3" x2="434.4" y2="807.3" stroke="#111" stroke-width="0.9" />
<line x1="425.65" y1="787.30" x2="430.85" y2="795.70" stroke="#000" stroke-width="0.8"/>
<line x1="430.85" y1="821.30" x2="425.65" y2="829.70" stroke="#000" stroke-width="0.8"/>
<line x1="434.4" y1="790.3" x2="446.0" y2="790.3" stroke="#111" stroke-width="0.9" />
<line x1="434.4" y1="826.1" x2="446.0" y2="826.1" stroke="#111" stroke-width="0.9" />
<line x1="437.60" y1="803.30" x2="442.80" y2="811.70" stroke="#000" stroke-width="0.8"/>
<line x1="446.0" y1="807.3" x2="457.9" y2="807.3" stroke="#111" stroke-width="0.9" />
<line x1="449.35" y1="787.30" x2="454.55" y2="795.70" stroke="#000" stroke-width="0.8"/>
<line x1="454.55" y1="821.30" x2="449.35" y2="829.70" stroke="#000" stroke-width="0.8"/>
<path d="M457.90,781.50L562.80,833.10M457.90,833.10L562.80,781.50" stroke="#111" stroke-width="0.8" fill="none"/>
<line x1="457.9" y1="781.5" x2="457.9" y2="833.1" stroke="#000" stroke-width="0.9" />
<line x1="562.8" y1="781.5" x2="562.8" y2="833.1" stroke="#000" stroke-width="0.9" />
<rect x="562.80" y="781.50" width="8.80" height="51.60" fill="#00b4ff"/>
<rect x="571.60" y="781.50" width="7.80" height="51.60" fill="#a0a0a0"/>
<rect x="579.40" y="781.50" width="9.00" height="51.60" fill="#00b4ff"/>
<rect x="588.40" y="781.50" width="8.10" height="51.60" fill="#a0a0a0"/>
<rect x="596.50" y="781.50" width="9.20" height="51.60" fill="#00b4ff"/>
<rect x="605.70" y="781.50" width="12.30" height="51.60" fill="#a0a0a0"/>
<rect x="618.00" y="781.50" width="9.40" height="51.60" fill="#00b4ff"/>
<rect x="627.40" y="781.50" width="8.20" height="51.60" fill="#a0a0a0"/>
<rect x="635.60" y="781.50" width="7.60" height="51.60" fill="#a0a0a0"/>
<rect x="643.20" y="781.50" width="6.50" height="51.60" fill="#00b4ff"/>
<line x1="562.8" y1="781.5" x2="562.8" y2="833.1" stroke="#111" stroke-width="0.9" />
<line x1="571.6" y1="781.5" x2="571.6" y2="833.1" stroke="#111" stroke-width="0.9" />
<line x1="562.8" y1="812.7" x2="571.6" y2="812.7" stroke="#0a5a80" stroke-width="0.9" />
<circle cx="567.60" cy="824.20" r="1.05" fill="#000"/>
<circle cx="567.60" cy="829.20" r="1.05" fill="#000"/>
<line x1="571.6" y1="781.5" x2="571.6" y2="833.1" stroke="#111" stroke-width="0.9" />
<line x1="579.4" y1="781.5" x2="579.4" y2="833.1" stroke="#111" stroke-width="0.9" />
<line x1="571.6" y1="796.0" x2="579.4" y2="796.0" stroke="#111" stroke-width="0.9" />
<line x1="571.6" y1="829.4" x2="579.4" y2="829.4" stroke="#555" stroke-width="1.2" />
<path clip-path="url(#lc)" d="M574.10,808.55 C577.40,809.21 577.50,811.27 575.70,812.37 C573.90,813.48 573.50,815.24 576.20,816.05" stroke="#000" stroke-width="0.85" fill="none" stroke-linecap="round"/>
<line x1="579.4" y1="781.5" x2="579.4" y2="833.1" stroke="#111" stroke-width="0.9" />
<line x1="588.4" y1="781.5" x2="588.4" y2="833.1" stroke="#111" stroke-width="0.9" />
<line x1="579.4" y1="812.7" x2="588.4" y2="812.7" stroke="#0a5a80" stroke-width="0.9" />
<circle cx="584.30" cy="791.30" r="1.05" fill="#000"/>
<circle cx="584.30" cy="796.40" r="1.05" fill="#000"/>
<circle cx="584.30" cy="801.50" r="1.05" fill="#000"/>
<line x1="588.4" y1="781.5" x2="588.4" y2="833.1" stroke="#111" stroke-width="0.9" />
<line x1="596.5" y1="781.5" x2="596.5" y2="833.1" stroke="#111" stroke-width="0.9" />
<line x1="588.4" y1="796.0" x2="596.5" y2="796.0" stroke="#111" stroke-width="0.9" />
<line x1="588.4" y1="829.4" x2="596.5" y2="829.4" stroke="#555" stroke-width="1.2" />
<path clip-path="url(#lc)" d="M591.05,808.55 C594.35,809.21 594.45,811.27 592.65,812.37 C590.85,813.48 590.45,815.24 593.15,816.05" stroke="#000" stroke-width="0.85" fill="none" stroke-linecap="round"/>
<path clip-path="url(#lc)" d="M591.05,782.10 C594.35,782.54 594.45,783.91 592.65,784.65 C590.85,785.38 590.45,786.56 593.15,787.10" stroke="#000" stroke-width="0.85" fill="none" stroke-linecap="round"/>
<line x1="596.5" y1="781.5" x2="596.5" y2="833.1" stroke="#111" stroke-width="0.9" />
<line x1="605.7" y1="781.5" x2="605.7" y2="833.1" stroke="#111" stroke-width="0.9" />
<line x1="596.5" y1="812.7" x2="605.7" y2="812.7" stroke="#0a5a80" stroke-width="0.9" />
<circle cx="601.50" cy="824.20" r="1.05" fill="#000"/>
<circle cx="601.50" cy="829.20" r="1.05" fill="#000"/>
<line x1="605.7" y1="781.5" x2="605.7" y2="833.1" stroke="#111" stroke-width="0.9" />
<line x1="618.0" y1="781.5" x2="618.0" y2="833.1" stroke="#111" stroke-width="0.9" />
<line x1="605.7" y1="796.0" x2="618.0" y2="796.0" stroke="#111" stroke-width="0.9" />
<line x1="605.7" y1="829.4" x2="618.0" y2="829.4" stroke="#555" stroke-width="1.2" />
<path clip-path="url(#lc)" d="M610.45,808.55 C613.75,809.21 613.85,811.27 612.05,812.37 C610.25,813.48 609.85,815.24 612.55,816.05" stroke="#000" stroke-width="0.85" fill="none" stroke-linecap="round"/>
<path clip-path="url(#lc)" d="M610.45,782.10 C613.75,782.54 613.85,783.91 612.05,784.65 C610.25,785.38 609.85,786.56 612.55,787.10" stroke="#000" stroke-width="0.85" fill="none" stroke-linecap="round"/>
<line x1="618.0" y1="781.5" x2="618.0" y2="833.1" stroke="#111" stroke-width="0.9" />
<line x1="627.4" y1="781.5" x2="627.4" y2="833.1" stroke="#111" stroke-width="0.9" />
<line x1="618.0" y1="812.7" x2="627.4" y2="812.7" stroke="#0a5a80" stroke-width="0.9" />
<circle cx="623.10" cy="791.30" r="1.05" fill="#000"/>
<circle cx="623.10" cy="796.40" r="1.05" fill="#000"/>
<circle cx="623.10" cy="801.50" r="1.05" fill="#000"/>
<line x1="627.4" y1="781.5" x2="627.4" y2="833.1" stroke="#111" stroke-width="0.9" />
<line x1="635.6" y1="781.5" x2="635.6" y2="833.1" stroke="#111" stroke-width="0.9" />
<line x1="627.4" y1="796.0" x2="635.6" y2="796.0" stroke="#111" stroke-width="0.9" />
<line x1="627.4" y1="829.4" x2="635.6" y2="829.4" stroke="#555" stroke-width="1.2" />
<path clip-path="url(#lc)" d="M630.10,808.55 C633.40,809.21 633.50,811.27 631.70,812.37 C629.90,813.48 629.50,815.24 632.20,816.05" stroke="#000" stroke-width="0.85" fill="none" stroke-linecap="round"/>
<path clip-path="url(#lc)" d="M630.10,782.10 C633.40,782.54 633.50,783.91 631.70,784.65 C629.90,785.38 629.50,786.56 632.20,787.10" stroke="#000" stroke-width="0.85" fill="none" stroke-linecap="round"/>
<line x1="635.6" y1="781.5" x2="635.6" y2="833.1" stroke="#111" stroke-width="0.9" />
<line x1="643.2" y1="781.5" x2="643.2" y2="833.1" stroke="#111" stroke-width="0.9" />
<line x1="635.6" y1="812.7" x2="643.2" y2="812.7" stroke="#111" stroke-width="0.9" />
<path clip-path="url(#lc)" d="M638.00,792.75 C641.30,793.41 641.40,795.47 639.60,796.57 C637.80,797.68 637.40,799.44 640.10,800.25" stroke="#000" stroke-width="0.85" fill="none" stroke-linecap="round"/>
<path clip-path="url(#lc)" d="M638.00,824.00 C641.30,824.62 641.40,826.54 639.60,827.57 C637.80,828.60 637.40,830.25 640.10,831.00" stroke="#000" stroke-width="0.85" fill="none" stroke-linecap="round"/>
<line x1="643.2" y1="781.5" x2="643.2" y2="833.1" stroke="#111" stroke-width="0.9" />
<line x1="649.7" y1="781.5" x2="649.7" y2="833.1" stroke="#111" stroke-width="0.9" />
<line x1="643.2" y1="796.0" x2="649.7" y2="796.0" stroke="#0a5a80" stroke-width="0.9" />
<line x1="643.2" y1="829.4" x2="649.7" y2="829.4" stroke="#0a5a80" stroke-width="0.9" />
<circle cx="646.75" cy="807.60" r="1.05" fill="#000"/>
<circle cx="646.75" cy="812.70" r="1.05" fill="#000"/>
<circle cx="646.75" cy="817.80" r="1.05" fill="#000"/>
<path d="M649.70,781.50L684.50,833.10M649.70,833.10L684.50,781.50" stroke="#111" stroke-width="0.8" fill="none"/>
<line x1="649.7" y1="781.5" x2="649.7" y2="833.1" stroke="#000" stroke-width="0.9" />
<line x1="684.5" y1="781.5" x2="684.5" y2="833.1" stroke="#000" stroke-width="0.9" />
<rect x="218.00" y="833.10" width="110.30" height="52.10" fill="#efefef"/>
<rect x="328.30" y="833.10" width="129.60" height="52.10" fill="#efefef"/>
<rect x="562.60" y="833.10" width="121.90" height="52.10" fill="#efefef"/>
<line x1="328.3" y1="833.1" x2="328.3" y2="885.2" stroke="#000" stroke-width="0.9" />
<path d="M457.90,833.10L562.60,885.20M457.90,885.20L562.60,833.10" stroke="#111" stroke-width="0.8" fill="none"/>
<line x1="457.9" y1="833.1" x2="457.9" y2="885.2" stroke="#000" stroke-width="0.9" />
<line x1="562.6" y1="833.1" x2="562.6" y2="885.2" stroke="#000" stroke-width="0.9" />
<text transform="translate(324.70,861.20) rotate(180) scale(0.92,1)" text-anchor="start" style="font-size:11.2px;" fill="#000">Passwang Fm.</text>
<text transform="translate(324.20,850.40) rotate(180)" text-anchor="start" style="font-size:7.8px;" fill="#000">(Rothenfluh Mb.)</text>
<text transform="translate(393.10,861.20) rotate(180)" text-anchor="middle" style="font-size:11.4px;" fill="#000">«Gisliflue Reef»</text>
<text transform="translate(393.00,850.20) rotate(180)" text-anchor="middle" style="font-size:7.7px;" fill="#000">«Echinodermenbrekzie»</text>
<text transform="translate(604.80,860.50) rotate(180)" text-anchor="middle" style="font-size:11.4px;" fill="#000">Passwang Fm.</text>
<text transform="translate(604.40,849.85) rotate(180)" text-anchor="middle" style="font-size:8.6px;" fill="#000">(Brüggli Mb.)</text>
<line x1="681.149" y1="903.6" x2="681.149" y2="905.5" stroke="#000" stroke-width="0.8" />
<line x1="670.766" y1="903.6" x2="670.766" y2="905.5" stroke="#000" stroke-width="0.8" />
<line x1="660.383" y1="903.6" x2="660.383" y2="905.5" stroke="#000" stroke-width="0.8" />
<line x1="650.0" y1="901.6" x2="650.0" y2="905.5" stroke="#000" stroke-width="0.9" />
<text transform="translate(653.10,893.90) rotate(-90)" text-anchor="middle" style="font-size:8.6px;" fill="#000">0</text>
<line x1="639.617" y1="903.6" x2="639.617" y2="905.5" stroke="#000" stroke-width="0.8" />
<line x1="629.234" y1="903.6" x2="629.234" y2="905.5" stroke="#000" stroke-width="0.8" />
<line x1="618.851" y1="903.6" x2="618.851" y2="905.5" stroke="#000" stroke-width="0.8" />
<line x1="608.468" y1="903.6" x2="608.468" y2="905.5" stroke="#000" stroke-width="0.8" />
<line x1="598.085" y1="901.6" x2="598.085" y2="905.5" stroke="#000" stroke-width="0.9" />
<text transform="translate(601.19,893.90) rotate(-90)" text-anchor="middle" style="font-size:8.6px;" fill="#000">5</text>
<line x1="587.702" y1="903.6" x2="587.702" y2="905.5" stroke="#000" stroke-width="0.8" />
<line x1="577.319" y1="903.6" x2="577.319" y2="905.5" stroke="#000" stroke-width="0.8" />
<line x1="566.936" y1="903.6" x2="566.936" y2="905.5" stroke="#000" stroke-width="0.8" />
<line x1="556.553" y1="903.6" x2="556.553" y2="905.5" stroke="#000" stroke-width="0.8" />
<line x1="546.1700000000001" y1="901.6" x2="546.1700000000001" y2="905.5" stroke="#000" stroke-width="0.9" />
<text transform="translate(549.27,893.90) rotate(-90)" text-anchor="middle" style="font-size:8.6px;" fill="#000">10</text>
<line x1="535.787" y1="903.6" x2="535.787" y2="905.5" stroke="#000" stroke-width="0.8" />
<line x1="525.404" y1="903.6" x2="525.404" y2="905.5" stroke="#000" stroke-width="0.8" />
<line x1="515.021" y1="903.6" x2="515.021" y2="905.5" stroke="#000" stroke-width="0.8" />
<line x1="504.63800000000003" y1="903.6" x2="504.63800000000003" y2="905.5" stroke="#000" stroke-width="0.8" />
<line x1="494.255" y1="901.6" x2="494.255" y2="905.5" stroke="#000" stroke-width="0.9" />
<text transform="translate(497.36,893.90) rotate(-90)" text-anchor="middle" style="font-size:8.6px;" fill="#000">15</text>
<line x1="483.872" y1="903.6" x2="483.872" y2="905.5" stroke="#000" stroke-width="0.8" />
<line x1="473.48900000000003" y1="903.6" x2="473.48900000000003" y2="905.5" stroke="#000" stroke-width="0.8" />
<line x1="463.106" y1="903.6" x2="463.106" y2="905.5" stroke="#000" stroke-width="0.8" />
<line x1="452.723" y1="903.6" x2="452.723" y2="905.5" stroke="#000" stroke-width="0.8" />
<line x1="442.34000000000003" y1="901.6" x2="442.34000000000003" y2="905.5" stroke="#000" stroke-width="0.9" />
<text transform="translate(445.44,893.90) rotate(-90)" text-anchor="middle" style="font-size:8.6px;" fill="#000">20</text>
<line x1="431.957" y1="903.6" x2="431.957" y2="905.5" stroke="#000" stroke-width="0.8" />
<line x1="421.574" y1="903.6" x2="421.574" y2="905.5" stroke="#000" stroke-width="0.8" />
<line x1="411.19100000000003" y1="903.6" x2="411.19100000000003" y2="905.5" stroke="#000" stroke-width="0.8" />
<line x1="400.808" y1="903.6" x2="400.808" y2="905.5" stroke="#000" stroke-width="0.8" />
<line x1="390.425" y1="901.6" x2="390.425" y2="905.5" stroke="#000" stroke-width="0.9" />
<text transform="translate(393.53,893.90) rotate(-90)" text-anchor="middle" style="font-size:8.6px;" fill="#000">25</text>
<line x1="380.04200000000003" y1="903.6" x2="380.04200000000003" y2="905.5" stroke="#000" stroke-width="0.8" />
<line x1="369.65900000000005" y1="903.6" x2="369.65900000000005" y2="905.5" stroke="#000" stroke-width="0.8" />
<line x1="359.276" y1="903.6" x2="359.276" y2="905.5" stroke="#000" stroke-width="0.8" />
<line x1="348.89300000000003" y1="903.6" x2="348.89300000000003" y2="905.5" stroke="#000" stroke-width="0.8" />
<line x1="338.51000000000005" y1="901.6" x2="338.51000000000005" y2="905.5" stroke="#000" stroke-width="0.9" />
<text transform="translate(341.61,893.90) rotate(-90)" text-anchor="middle" style="font-size:8.6px;" fill="#000">30</text>
<line x1="328.127" y1="903.6" x2="328.127" y2="905.5" stroke="#000" stroke-width="0.8" />
<line x1="317.744" y1="903.6" x2="317.744" y2="905.5" stroke="#000" stroke-width="0.8" />
<line x1="307.36100000000005" y1="903.6" x2="307.36100000000005" y2="905.5" stroke="#000" stroke-width="0.8" />
<line x1="296.978" y1="903.6" x2="296.978" y2="905.5" stroke="#000" stroke-width="0.8" />
<line x1="286.595" y1="901.6" x2="286.595" y2="905.5" stroke="#000" stroke-width="0.9" />
<text transform="translate(289.70,893.90) rotate(-90)" text-anchor="middle" style="font-size:8.6px;" fill="#000">35</text>
<line x1="276.21200000000005" y1="903.6" x2="276.21200000000005" y2="905.5" stroke="#000" stroke-width="0.8" />
<line x1="265.829" y1="903.6" x2="265.829" y2="905.5" stroke="#000" stroke-width="0.8" />
<line x1="255.44600000000003" y1="903.6" x2="255.44600000000003" y2="905.5" stroke="#000" stroke-width="0.8" />
<line x1="245.06300000000005" y1="903.6" x2="245.06300000000005" y2="905.5" stroke="#000" stroke-width="0.8" />
<line x1="234.68000000000006" y1="901.6" x2="234.68000000000006" y2="905.5" stroke="#000" stroke-width="0.9" />
<text transform="translate(237.78,893.90) rotate(-90)" text-anchor="middle" style="font-size:8.6px;" fill="#000">40</text>
<line x1="224.29700000000003" y1="903.6" x2="224.29700000000003" y2="905.5" stroke="#000" stroke-width="0.8" />
<line x1="218.0" y1="781.5" x2="685" y2="781.5" stroke="#000" stroke-width="1.0" />
<line x1="218.0" y1="833.1" x2="685" y2="833.1" stroke="#000" stroke-width="1.0" />
<line x1="218.0" y1="885.2" x2="685" y2="885.2" stroke="#000" stroke-width="1.0" />
<line x1="0" y1="740.55" x2="685" y2="740.55" stroke="#000" stroke-width="1.5" />
<line x1="218.0" y1="0" x2="218.0" y2="906" stroke="#000" stroke-width="1.2" />
<rect x="0.5" y="0.5" width="684" height="905" fill="none" stroke="#000" stroke-width="1"/>
</svg>
</body>
</html>
